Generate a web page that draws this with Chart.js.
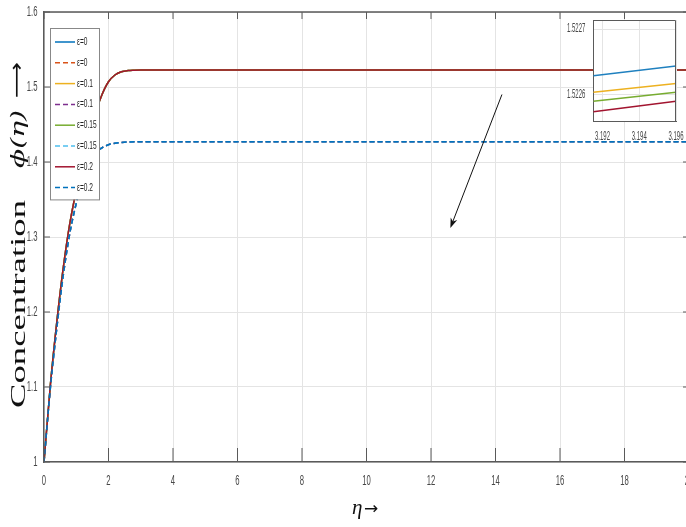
<!DOCTYPE html>
<html>
<head>
  <meta charset="utf-8">
  <title>Concentration profile</title>
  <script src="https://cdn.jsdelivr.net/npm/chart.js"></script>
  <style>
    html, body { margin: 0; padding: 0; overflow: hidden; background: #fff; }
    #wrap { position: relative; width: 686px; height: 527px; overflow: hidden; }
    #mainChart { position: absolute; left: 0; top: 0; }
    #zoomChart { position: absolute; left: 550px; top: 10px; }
  </style>
</head>
<body>
<div id="wrap">
  <canvas id="mainChart" width="700" height="527"></canvas>
  <canvas id="zoomChart" width="136" height="140"></canvas>
</div>
<script>
// eta grid and concentration profiles phi(eta) for each epsilon
const eta = [0, 0.2, 0.4, 0.6, 0.8, 1.0, 1.2, 1.4, 1.6, 1.8, 2.0, 2.2, 2.4, 2.6, 2.8, 3.0, 3.5, 4, 5, 6, 8, 10, 12, 14, 16, 18, 20];

const phiE0    = [1.000, 1.104, 1.188, 1.260, 1.318, 1.362, 1.400, 1.435, 1.466, 1.490, 1.507, 1.5160, 1.5203, 1.5219, 1.5224, 1.52264, 1.52266, 1.52266, 1.52266, 1.52266, 1.52266, 1.52266, 1.52266, 1.52266, 1.52266, 1.52266, 1.52266];
const phiE01   = [1.000, 1.104, 1.188, 1.260, 1.318, 1.362, 1.400, 1.435, 1.466, 1.490, 1.507, 1.5160, 1.5203, 1.5219, 1.5224, 1.52261, 1.52263, 1.52263, 1.52263, 1.52263, 1.52263, 1.52263, 1.52263, 1.52263, 1.52263, 1.52263, 1.52263];
const phiE015  = [1.000, 1.104, 1.188, 1.260, 1.318, 1.362, 1.400, 1.435, 1.466, 1.490, 1.507, 1.5160, 1.5203, 1.5219, 1.5224, 1.52260, 1.52262, 1.52262, 1.52262, 1.52262, 1.52262, 1.52262, 1.52262, 1.52262, 1.52262, 1.52262, 1.52262];
const phiE02   = [1.000, 1.104, 1.188, 1.260, 1.318, 1.362, 1.400, 1.435, 1.466, 1.490, 1.507, 1.5160, 1.5203, 1.5219, 1.5224, 1.52258, 1.52260, 1.52260, 1.52260, 1.52260, 1.52260, 1.52260, 1.52260, 1.52260, 1.52260, 1.52260, 1.52260];
const phiE0d   = [1.000, 1.100, 1.180, 1.250, 1.305, 1.345, 1.377, 1.399, 1.412, 1.419, 1.423, 1.425, 1.426, 1.4267, 1.427, 1.427, 1.427, 1.427, 1.427, 1.427, 1.427, 1.427, 1.427, 1.427, 1.427, 1.427, 1.427];
const phiE01d  = [1.000, 1.100, 1.180, 1.250, 1.305, 1.345, 1.377, 1.399, 1.412, 1.419, 1.423, 1.425, 1.426, 1.4267, 1.427, 1.427, 1.427, 1.427, 1.427, 1.427, 1.427, 1.427, 1.427, 1.427, 1.427, 1.427, 1.427];
const phiE015d = [1.000, 1.100, 1.180, 1.250, 1.305, 1.345, 1.377, 1.399, 1.412, 1.419, 1.423, 1.425, 1.426, 1.4267, 1.427, 1.427, 1.427, 1.427, 1.427, 1.427, 1.427, 1.427, 1.427, 1.427, 1.427, 1.427, 1.427];
const phiE02d  = [1.000, 1.100, 1.180, 1.250, 1.305, 1.345, 1.377, 1.399, 1.412, 1.419, 1.423, 1.425, 1.426, 1.4267, 1.427, 1.427, 1.427, 1.427, 1.427, 1.427, 1.427, 1.427, 1.427, 1.427, 1.427, 1.427, 1.427];

const seriesLabels = ['ε=0', 'ε=0', 'ε=0.1', 'ε=0.1', 'ε=0.15', 'ε=0.15', 'ε=0.2', 'ε=0.2'];
const seriesValues = [phiE0, phiE0d, phiE01, phiE01d, phiE015, phiE015d, phiE02, phiE02d];
const seriesColors = ['#0072BD', '#D95319', '#EDB120', '#7E2F8E', '#77AC30', '#4DBEEE', '#A2142F', '#0072BD'];
const seriesDashed = [false, true, false, true, false, true, false, true];

const yTicks = [1, 1.1, 1.2, 1.3, 1.4, 1.5, 1.6];

// zoomed window around eta = 3.194
const zoomEta = [3.1915, 3.196];
const zoomE0   = [1.522629, 1.522644];
const zoomE01  = [1.522604, 1.522617];
const zoomE015 = [1.522590, 1.522604];
const zoomE02  = [1.522574, 1.522590];
const zoomEtaTicks = [3.192, 3.194, 3.196];
const zoomPhiTicks = [1.5226, 1.5227];

// pointer from the plateau towards the lower curves (eta, phi)
const arrowFrom = [14.2, 1.490];
const arrowTo = [12.6, 1.312];

const axisColor = '#5a5a5a';
const gridColor = '#e4e4e4';
const labelColor = '#474747';

function xy(xs, ys) {
  return xs.map((v, i) => ({ x: v, y: ys[i] }));
}

// keep tick-label overhang from shrinking the plot area
function noLabelPadding(s) {
  s.paddingLeft = 0;
  s.paddingRight = 0;
  s.paddingTop = 0;
  s.paddingBottom = 0;
}

// tall, condensed text like the exported figure's labels
function narrowText(ctx, text, x, y, size, squeeze, align) {
  ctx.save();
  ctx.font = size + 'px "Liberation Sans", Arial, sans-serif';
  ctx.translate(x, y);
  ctx.scale(squeeze, 1);
  ctx.textAlign = align;
  ctx.textBaseline = 'middle';
  ctx.fillText(text, 0, 0);
  ctx.restore();
}

function drawTickLabels(chart, xGap, yGap, size, squeeze) {
  const { ctx, chartArea: a, scales: { x, y } } = chart;
  ctx.save();
  ctx.fillStyle = labelColor;
  x.ticks.forEach(t => narrowText(ctx, t.label, x.getPixelForValue(t.value), a.bottom + xGap, size, squeeze, 'center'));
  y.ticks.forEach(t => narrowText(ctx, t.label, a.left - yGap, y.getPixelForValue(t.value), size, squeeze, 'right'));
  ctx.restore();
}

const datasets = seriesValues.map((vals, i) => ({
  label: seriesLabels[i],
  data: xy(eta, vals),
  borderColor: seriesColors[i],
  borderWidth: 1.5,
  borderDash: seriesDashed[i] ? [5, 3] : [],
  pointRadius: 0,
  cubicInterpolationMode: 'monotone',
  order: seriesValues.length - i
}));

function drawRotated(ctx, text, font, x, y, len, baseline) {
  ctx.save();
  ctx.font = font;
  const w = ctx.measureText(text).width;
  ctx.translate(x, y);
  ctx.rotate(-Math.PI / 2);
  ctx.scale(len / w, 1);
  ctx.textAlign = 'center';
  ctx.textBaseline = baseline;
  ctx.fillText(text, 0, 0);
  ctx.restore();
}

const boxPlugin = {
  id: 'boxPlugin',
  afterDatasetsDraw(chart) {
    const { ctx, chartArea: a, scales: { x, y } } = chart;
    ctx.save();

    // top and right edges of the axes box
    ctx.strokeStyle = axisColor;
    ctx.lineWidth = 1.5;
    ctx.beginPath();
    ctx.moveTo(a.left, a.top);
    ctx.lineTo(a.right, a.top);
    ctx.lineTo(a.right, a.bottom);
    ctx.stroke();

    // inward tick marks
    ctx.lineWidth = 1;
    ctx.beginPath();
    x.ticks.forEach(t => {
      const px = x.getPixelForValue(t.value);
      ctx.moveTo(px, a.bottom);
      ctx.lineTo(px, a.bottom - 14);
      ctx.moveTo(px, a.top);
      ctx.lineTo(px, a.top + 7);
    });
    y.ticks.forEach(t => {
      const py = y.getPixelForValue(t.value);
      ctx.moveTo(a.left, py);
      ctx.lineTo(a.left + 6, py);
      ctx.moveTo(a.right, py);
      ctx.lineTo(a.right - 6, py);
    });
    ctx.stroke();

    // annotation arrow
    const x0 = x.getPixelForValue(arrowFrom[0]), y0 = y.getPixelForValue(arrowFrom[1]);
    const x1 = x.getPixelForValue(arrowTo[0]), y1 = y.getPixelForValue(arrowTo[1]);
    const ang = Math.atan2(y1 - y0, x1 - x0);
    ctx.strokeStyle = '#111';
    ctx.fillStyle = '#111';
    ctx.lineWidth = 1;
    ctx.beginPath();
    ctx.moveTo(x0, y0);
    ctx.lineTo(x1 - 6 * Math.cos(ang), y1 - 6 * Math.sin(ang));
    ctx.stroke();
    ctx.beginPath();
    ctx.moveTo(x1, y1);
    ctx.lineTo(x1 - 10 * Math.cos(ang) + 3.5 * Math.sin(ang), y1 - 10 * Math.sin(ang) - 3.5 * Math.cos(ang));
    ctx.lineTo(x1 - 7 * Math.cos(ang), y1 - 7 * Math.sin(ang));
    ctx.lineTo(x1 - 10 * Math.cos(ang) - 3.5 * Math.sin(ang), y1 - 10 * Math.sin(ang) + 3.5 * Math.cos(ang));
    ctx.closePath();
    ctx.fill();

    // legend box inside the axes
    const lx = a.left + 6, ly = a.top + 16, lw = 49, row = 20.8;
    const lh = row * chart.data.datasets.length + 5;
    ctx.fillStyle = '#fff';
    ctx.fillRect(lx, ly, lw, lh);
    ctx.strokeStyle = '#888';
    ctx.lineWidth = 1;
    ctx.strokeRect(lx + 0.5, ly + 0.5, lw, lh);
    chart.data.datasets.forEach((ds, i) => {
      const cy = ly + 14 + i * row;
      ctx.strokeStyle = ds.borderColor;
      ctx.lineWidth = 1.5;
      ctx.setLineDash(ds.borderDash);
      ctx.beginPath();
      ctx.moveTo(lx + 5, cy);
      ctx.lineTo(lx + 25, cy);
      ctx.stroke();
      ctx.setLineDash([]);
      ctx.fillStyle = '#222';
      narrowText(ctx, ds.label, lx + 27, cy, 11, 0.6, 'left');
    });
    ctx.restore();
  },
  afterDraw(chart) {
    const { ctx } = chart;
    drawTickLabels(chart, 19.5, 6.5, 14, 0.55);
    ctx.save();
    ctx.fillStyle = '#111';
    // y axis title
    drawRotated(ctx, 'Concentration', '20px "Liberation Serif", serif', 25, 304, 208, 'alphabetic');
    drawRotated(ctx, 'ϕ(η)', 'italic 19px "DejaVu Serif", serif', 24, 139, 58, 'alphabetic');
    drawRotated(ctx, '⟶', '20px "DejaVu Sans", sans-serif', 18, 80, 36, 'middle');
    // x axis title
    ctx.font = 'italic 21px "Liberation Serif", serif';
    ctx.textBaseline = 'alphabetic';
    ctx.fillText('η', 352, 514);
    ctx.font = '17px "DejaVu Sans", sans-serif';
    ctx.fillText('→', 364, 514);
    ctx.restore();
  }
};

new Chart(document.getElementById('mainChart'), {
  type: 'line',
  data: { datasets: datasets },
  options: {
    responsive: false,
    animation: false,
    layout: { padding: { top: 12, right: 11, left: 0, bottom: 0 } },
    plugins: { legend: { display: false }, tooltip: { enabled: false } },
    scales: {
      x: {
        type: 'linear',
        min: 0,
        max: 20,
        ticks: { stepSize: 2, display: false },
        grid: { color: gridColor, drawTicks: false },
        border: { color: axisColor, width: 1.5 },
        afterFit: s => { s.height = 65; noLabelPadding(s); }
      },
      y: {
        min: 1,
        max: 1.6,
        afterBuildTicks: s => { s.ticks = yTicks.map(v => ({ value: v })); },
        ticks: { display: false, callback: v => String(Number(v.toFixed(1))) },
        grid: { color: gridColor, drawTicks: false },
        border: { color: axisColor, width: 1.5 },
        afterFit: s => { s.width = 44; noLabelPadding(s); }
      }
    }
  },
  plugins: [boxPlugin]
});

// inset: zoom on the solid curves
const insetPlugin = {
  id: 'insetPlugin',
  beforeDraw(chart) {
    const { ctx, chartArea: a } = chart;
    ctx.save();
    ctx.fillStyle = '#fff';
    ctx.fillRect(a.left, a.top, a.right - a.left, a.bottom - a.top);
    ctx.restore();
  },
  afterDraw(chart) {
    const { ctx, chartArea: a } = chart;
    ctx.save();
    ctx.strokeStyle = axisColor;
    ctx.lineWidth = 1;
    ctx.beginPath();
    ctx.moveTo(a.left, a.top + 0.5);
    ctx.lineTo(a.right - 0.5, a.top + 0.5);
    ctx.lineTo(a.right - 0.5, a.bottom);
    ctx.stroke();
    ctx.restore();
    drawTickLabels(chart, 16, 8, 12, 0.5);
  }
};

const zoomSeries = [zoomE0, zoomE01, zoomE015, zoomE02];
const zoomColors = ['#1f80bf', '#EDB120', '#77AC30', '#A2142F'];

new Chart(document.getElementById('zoomChart'), {
  type: 'line',
  data: {
    datasets: zoomSeries.map((vals, i) => ({
      data: xy(zoomEta, vals),
      borderColor: zoomColors[i],
      borderWidth: 1.5,
      pointRadius: 0
    }))
  },
  options: {
    responsive: false,
    animation: false,
    layout: { padding: { top: 10, right: 10, left: 0, bottom: 0 } },
    plugins: { legend: { display: false }, tooltip: { enabled: false } },
    scales: {
      x: {
        type: 'linear',
        min: 3.1915,
        max: 3.196,
        afterBuildTicks: s => { s.ticks = zoomEtaTicks.map(v => ({ value: v })); },
        ticks: { display: false, callback: v => v.toFixed(3) },
        grid: { color: gridColor, drawTicks: false },
        border: { color: axisColor, width: 1 },
        afterFit: s => { s.height = 29; noLabelPadding(s); }
      },
      y: {
        min: 1.52256,
        max: 1.522714,
        afterBuildTicks: s => { s.ticks = zoomPhiTicks.map(v => ({ value: v })); },
        ticks: { display: false, callback: v => v.toFixed(4) },
        grid: { color: gridColor, drawTicks: false },
        border: { color: axisColor, width: 1 },
        afterFit: s => { s.width = 43.3; noLabelPadding(s); }
      }
    }
  },
  plugins: [insetPlugin]
});
</script>
</body>
</html>
